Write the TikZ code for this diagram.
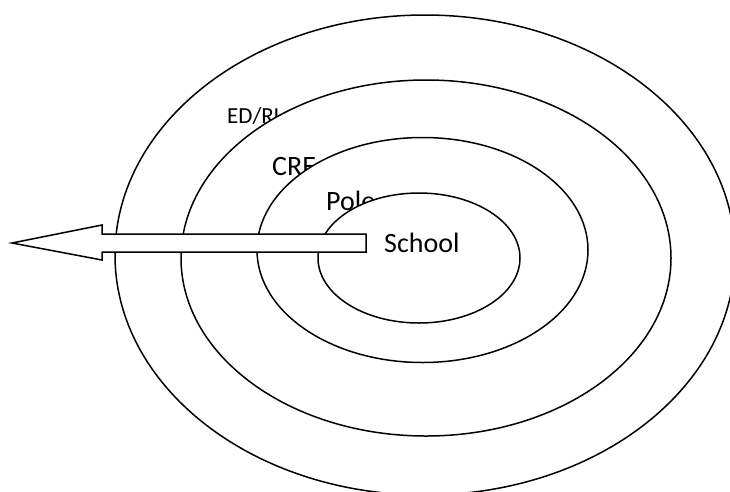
\documentclass[tikz,border=0pt]{standalone}
\usepackage{fontspec}
\setmainfont{Carlito}
\usetikzlibrary{positioning}
\tikzset{
  ring/.style={draw=black,fill=white,line width=1.5pt},
  lbl/.style={anchor=base west,inner sep=0pt,font=\fontsize{28}{30}\selectfont},
  smalllbl/.style={lbl,font=\fontsize{23}{25}\selectfont},
  blockarrow/.style={draw=black,fill=white,line width=1.5pt,line join=miter}
}

\begin{document}
\begin{tikzpicture}[x=1pt,y=-1pt]
\useasboundingbox (0,0) rectangle (730,491);
\clip (0,0) rectangle (730,491);
\fill[white] (0,0) rectangle (730,491);
% rings, outside in; each label is partly hidden by the next ring
\draw[ring] (425,255) ellipse [x radius=310,y radius=240];
\node[smalllbl] (edrl) at (227,123) {ED/RL};
\draw[ring] (426,258) ellipse [x radius=245,y radius=178];
\node[lbl] (cre) at (272,175) {CRE};
\draw[ring] (422.5,250) ellipse [x radius=165.5,y radius=112.5];
\node[lbl] (pole) at (326,210) {Pole};
\draw[ring] (419,258) ellipse [x radius=101,y radius=65];
\node[lbl] (school) at (384,252) {School};
% arrow going out of the school
\coordinate (tip) at (12,243);
\draw[blockarrow] (366,234) -- (102,234) -- (102,225) -- (tip)
  -- (102,260) -- (102,252) -- (366,252) -- cycle;
\end{tikzpicture}
\end{document}
